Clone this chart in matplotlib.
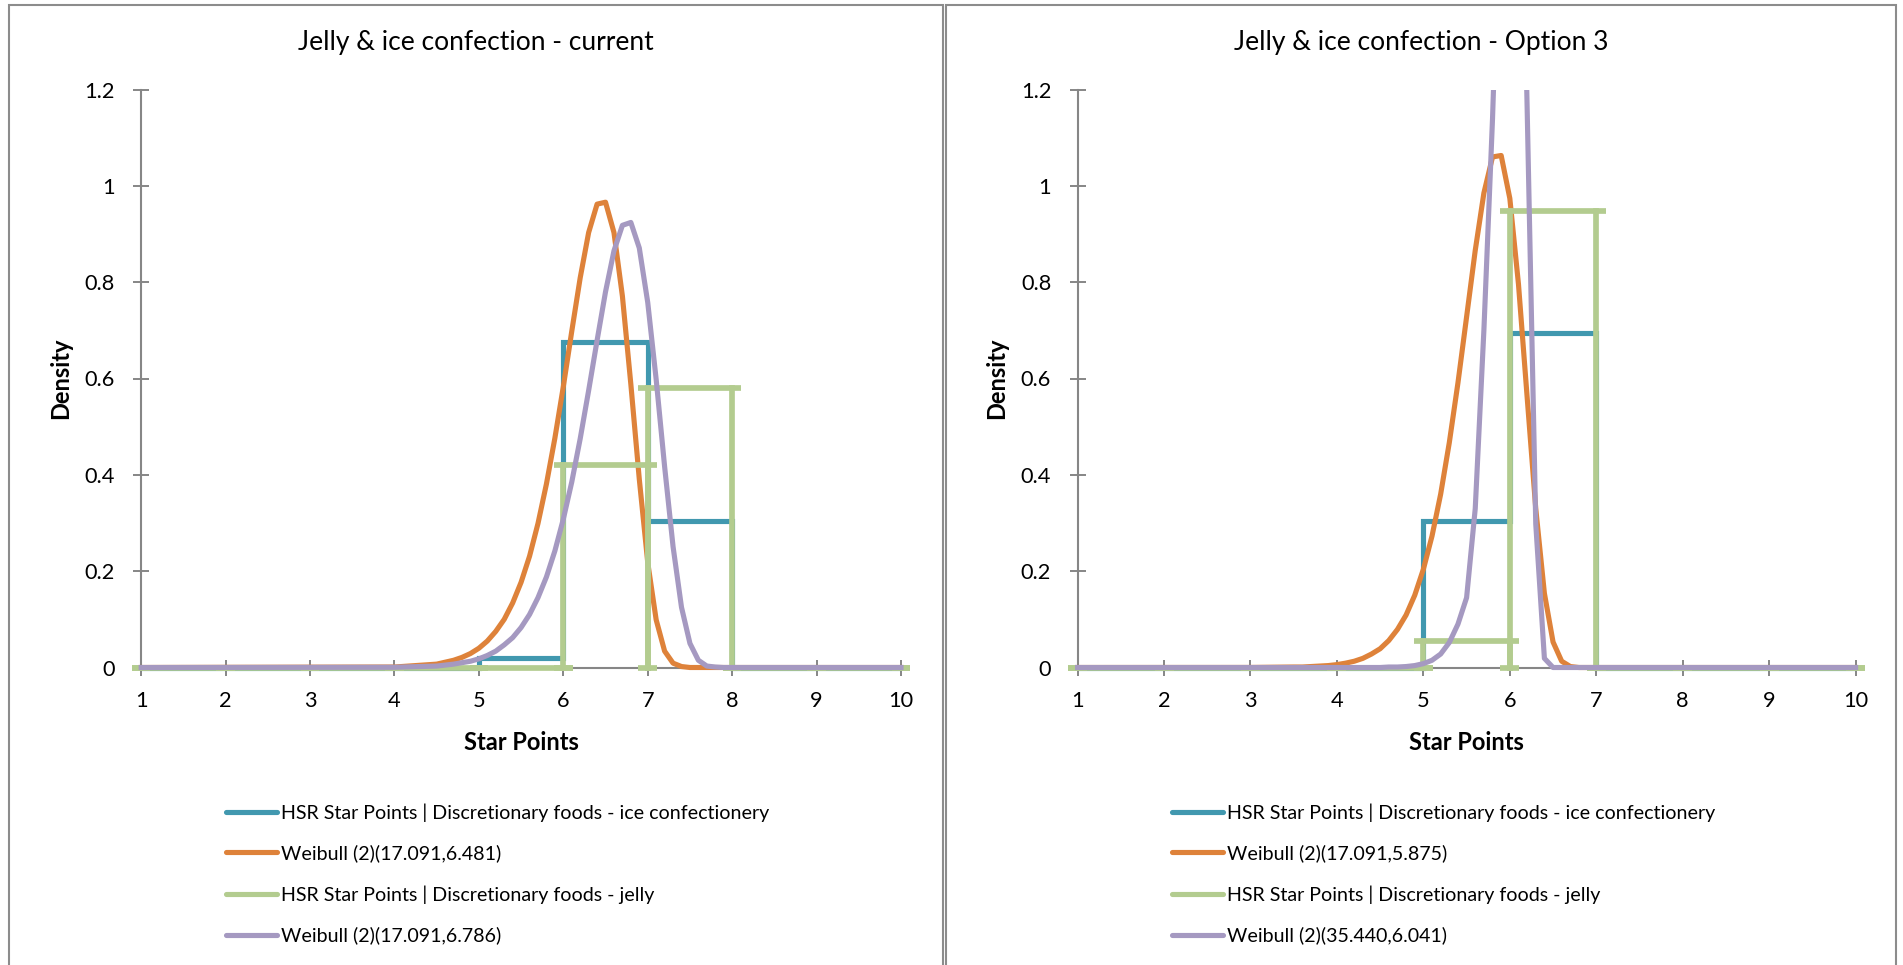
import numpy as np
import matplotlib.pyplot as plt
from matplotlib.lines import Line2D
from matplotlib.patches import Rectangle

plt.rcParams['font.family'] = ['Lato', 'DejaVu Sans']

W, H = 1903, 965

# ---------------- data ----------------
bin_edges = [1, 2, 3, 4, 5, 6, 7, 8, 9, 10]
x_ticks = [1, 2, 3, 4, 5, 6, 7, 8, 9, 10]
y_ticks = [0, 0.2, 0.4, 0.6, 0.8, 1.0, 1.2]
y_ticklabels = ['0', '0.2', '0.4', '0.6', '0.8', '1', '1.2']

titles = ['Jelly & ice confection - current', 'Jelly & ice confection - Option 3']

# HSR star point histograms (density per bin 1-2, 2-3, ..., 9-10)
ice_current = [0, 0, 0, 0, 0.02, 0.675, 0.305, 0, 0]
jelly_current = [0, 0, 0, 0, 0, 0.42, 0.58, 0, 0]
ice_opt3 = [0, 0, 0, 0, 0.305, 0.695, 0, 0, 0]
jelly_opt3 = [0, 0, 0, 0, 0.055, 0.948, 0, 0, 0]

# fitted Weibull curves
cur_x = [1.0, 4.0, 4.5, 4.6, 4.7, 4.8, 4.9, 5.0, 5.1, 5.2, 5.3, 5.4, 5.5, 5.6,
         5.7, 5.8, 5.9, 6.0, 6.1, 6.2, 6.3, 6.4, 6.5, 6.6, 6.7, 6.8, 6.9, 7.0,
         7.1, 7.2, 7.3, 7.4, 7.5, 7.6, 7.7, 7.8, 7.9, 8.0, 10.0]
weib_cur_ice = [0, 0.001, 0.007, 0.011, 0.015, 0.021, 0.029, 0.040, 0.055,
                0.075, 0.100, 0.134, 0.177, 0.231, 0.299, 0.381, 0.476, 0.583,
                0.698, 0.809, 0.903, 0.962, 0.966, 0.903, 0.771, 0.588, 0.391,
                0.218, 0.099, 0.034, 0.009, 0.002, 0, 0, 0, 0, 0, 0, 0]
weib_cur_jelly = [0, 0.0005, 0.003, 0.005, 0.007, 0.010, 0.013, 0.018, 0.025,
                  0.034, 0.047, 0.062, 0.083, 0.110, 0.145, 0.188, 0.242,
                  0.308, 0.385, 0.475, 0.575, 0.679, 0.780, 0.865, 0.918,
                  0.924, 0.871, 0.758, 0.598, 0.417, 0.251, 0.125, 0.050,
                  0.015, 0.003, 0.001, 0, 0, 0]

opt_x = [1.0, 3.0, 3.5, 3.6, 3.7, 3.8, 3.9, 4.0, 4.1, 4.2, 4.3, 4.4, 4.5, 4.6,
         4.7, 4.8, 4.9, 5.0, 5.1, 5.2, 5.3, 5.4, 5.5, 5.6, 5.7, 5.8, 5.9, 6.0,
         6.1, 6.2, 6.3, 6.4, 6.5, 6.6, 6.7, 6.8, 10.0]
weib_opt_ice = [0, 0.0001, 0.001, 0.001, 0.002, 0.003, 0.004, 0.006, 0.009,
                0.013, 0.019, 0.028, 0.039, 0.056, 0.079, 0.109, 0.150, 0.204,
                0.273, 0.360, 0.467, 0.591, 0.728, 0.866, 0.985, 1.060, 1.063,
                0.974, 0.796, 0.562, 0.330, 0.154, 0.053, 0.013, 0.002, 0, 0]
weib_opt_jelly = [0, 0, 0, 0, 0, 0, 0, 0, 0, 0, 0, 0, 0, 0.001, 0.001, 0.002,
                  0.004, 0.008, 0.015, 0.028, 0.052, 0.090, 0.145, 0.330,
                  0.700, 1.140, 1.687, 2.115, 2.000, 1.165, 0.298, 0.019,
                  0, 0, 0, 0, 0]

legend_labels = [
    ['HSR Star Points | Discretionary foods - ice confectionery',
     'Weibull (2)(17.091,6.481)',
     'HSR Star Points | Discretionary foods - jelly',
     'Weibull (2)(17.091,6.786)'],
    ['HSR Star Points | Discretionary foods - ice confectionery',
     'Weibull (2)(17.091,5.875)',
     'HSR Star Points | Discretionary foods - jelly',
     'Weibull (2)(35.440,6.041)'],
]

BLUE = '#4198AF'
ORANGE = '#DE823A'
GREEN = '#B3CC8F'
PURPLE = '#A599C1'
GRAY = '#868686'
LW = 3.7

fig = plt.figure(figsize=(W / 100, H / 100), dpi=100)


def add_axes(x1px, x10px, y0px, y12px, xlim=(0.85, 10.2), ylim=(-0.05, 1.2)):
    sx = (x10px - x1px) / 9
    sy = (y0px - y12px) / 1.2
    left = x1px - (1 - xlim[0]) * sx
    right = x10px + (xlim[1] - 10) * sx
    top = y12px - (ylim[1] - 1.2) * sy
    bottom = y0px + (0 - ylim[0]) * sy
    ax = fig.add_axes([left / W, 1 - bottom / H, (right - left) / W, (bottom - top) / H])
    ax.set_xlim(*xlim)
    ax.set_ylim(*ylim)
    return ax


panels = [
    dict(frame=(9, 942.5), ax=(141.2, 901.0), dens_x=60.5,
         ice=ice_current, jelly=jelly_current, wx=cur_x,
         wa=weib_cur_ice, wb=weib_cur_jelly, leg_x=226),
    dict(frame=(946, 1896), ax=(1077.6, 1855.6), dens_x=997,
         ice=ice_opt3, jelly=jelly_opt3, wx=opt_x,
         wa=weib_opt_ice, wb=weib_opt_jelly, leg_x=1172),
]

for i, p in enumerate(panels):
    x0, x1 = p['frame']
    fig.patches.append(Rectangle((x0 / W, -30 / H), (x1 - x0) / W, (H + 30 - 5) / H,
                                 transform=fig.transFigure, fill=False,
                                 edgecolor='#8C8C8C', lw=1.5))
    fig.text((x0 + x1) / 2 / W, 1 - 50 / H, titles[i], ha='center',
             va='baseline', fontsize=19)

    ax = add_axes(p['ax'][0], p['ax'][1], 667.5, 89.5)

    # histogram of ice confectionery
    ax.stairs(p['ice'], bin_edges, color=BLUE, lw=LW, zorder=2)
    # Weibull fit 1
    ax.plot(p['wx'], p['wa'], color=ORANGE, lw=LW, zorder=2.5)
    # histogram of jelly, drawn with caps like the original
    ext = 0.11
    for l, r, h in zip(bin_edges[:-1], bin_edges[1:], p['jelly']):
        ax.plot([l - ext, r + ext], [h, h], color=GREEN, lw=LW + 0.4,
                solid_capstyle='butt', zorder=3, clip_on=False)
        if h > 0:
            ax.plot([l, l], [0, h], color=GREEN, lw=LW + 0.4, zorder=3)
            ax.plot([r, r], [0, h], color=GREEN, lw=LW + 0.4, zorder=3)
    for e in bin_edges:
        ax.plot([e - ext, e + ext], [0, 0], color=GREEN, lw=LW + 0.4,
                solid_capstyle='butt', zorder=3, clip_on=False)
    # Weibull fit 2
    ax.plot(p['wx'], p['wb'], color=PURPLE, lw=LW, zorder=4)

    for s in ['top', 'right']:
        ax.spines[s].set_visible(False)
    ax.spines['left'].set_position(('data', 1))
    ax.spines['bottom'].set_position(('data', 0))
    ax.spines['left'].set_bounds(0, 1.2)
    ax.spines['bottom'].set_bounds(1, 10)
    for s in ['left', 'bottom']:
        ax.spines[s].set_color(GRAY)
        ax.spines[s].set_linewidth(1.5)
        ax.spines[s].set_zorder(1)

    ax.set_xticks(x_ticks)
    ax.set_yticks(y_ticks)
    ax.set_yticklabels(y_ticklabels)
    ax.tick_params(axis='both', direction='inout', length=12, width=1.4,
                   color=GRAY, labelsize=15.7, labelcolor='black')
    ax.tick_params(axis='y', pad=13)
    ax.tick_params(axis='x', pad=11)

    cx = (p['ax'][0] + p['ax'][1]) / 2
    fig.text(cx / W, 1 - 743 / H, 'Star Points', ha='center', va='center',
             fontsize=17, fontweight='bold')
    fig.text(p['dens_x'] / W, 1 - 378.5 / H, 'Density', ha='center', va='center',
             rotation=90, fontsize=17, fontweight='bold')

    colors = [BLUE, ORANGE, GREEN, PURPLE]
    handles = [Line2D([], [], color=c, lw=LW, solid_capstyle='round') for c in colors]
    fig.legend(handles, legend_labels[i], loc='upper left',
               bbox_to_anchor=(p['leg_x'] / W, 1 - 803 / H),
               bbox_transform=fig.transFigure, frameon=False, fontsize=14.1,
               borderpad=0, borderaxespad=0, handlelength=2.62,
               handletextpad=0.18, labelspacing=1.17)

fig.savefig('out.png', dpi=100)
